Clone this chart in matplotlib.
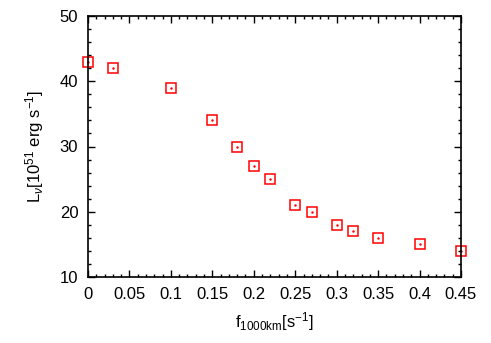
import matplotlib
matplotlib.use("Agg")
import matplotlib.pyplot as plt
from matplotlib.ticker import MultipleLocator

plt.rcParams['font.family'] = ['Liberation Sans', 'DejaVu Sans']
plt.rcParams['mathtext.fontset'] = 'custom'
plt.rcParams['mathtext.rm'] = 'Liberation Sans'
plt.rcParams['mathtext.it'] = 'Liberation Sans:italic'

f_values = [0.0, 0.03, 0.1, 0.15, 0.18, 0.2, 0.22, 0.25, 0.27, 0.3, 0.32, 0.35, 0.4, 0.45]
L_values = [43, 42, 39, 34, 30, 27, 25, 21, 20, 18, 17, 16, 15, 14]
x_ticks = [0, 0.05, 0.1, 0.15, 0.2, 0.25, 0.3, 0.35, 0.4, 0.45]
x_tick_labels = ['0', '0.05', '0.1', '0.15', '0.2', '0.25', '0.3', '0.35', '0.4', '0.45']
y_ticks = [10, 20, 30, 40, 50]

fig = plt.figure(figsize=(4.91, 3.43), dpi=100)
ax = fig.add_axes([88/491, 66/343, (461-88)/491, (277-16)/343])

ax.plot(f_values, L_values, linestyle='none', marker='s', markersize=7,
        markerfacecolor='none', markeredgecolor='#ff0000', markeredgewidth=1.1, clip_on=False)
ax.plot(f_values, L_values, linestyle='none', marker='.', markersize=1.5,
        color='#ff0000', clip_on=False)

ax.set_xlim(0, 0.45)
ax.set_ylim(10, 50)
ax.set_xticks(x_ticks)
ax.set_xticklabels(x_tick_labels)
ax.set_yticks(y_ticks)
ax.xaxis.set_minor_locator(MultipleLocator(0.01))
ax.yaxis.set_minor_locator(MultipleLocator(2))
ax.tick_params(which='both', direction='in', top=True, right=True, labelsize=12, pad=7)
ax.tick_params(which='major', length=5, width=1)
ax.tick_params(which='minor', length=2.5, width=1)
for s in ax.spines.values():
    s.set_linewidth(1.2)

ax.set_xlabel(r'f$_{\mathrm{1000km}}$[s$^{-1}$]', fontsize=12, labelpad=6)
ax.set_ylabel(r'L$_{\nu}$[10$^{51}$ erg s$^{-1}$]', fontsize=12, labelpad=10)

fig.savefig('out.png', dpi=100)
